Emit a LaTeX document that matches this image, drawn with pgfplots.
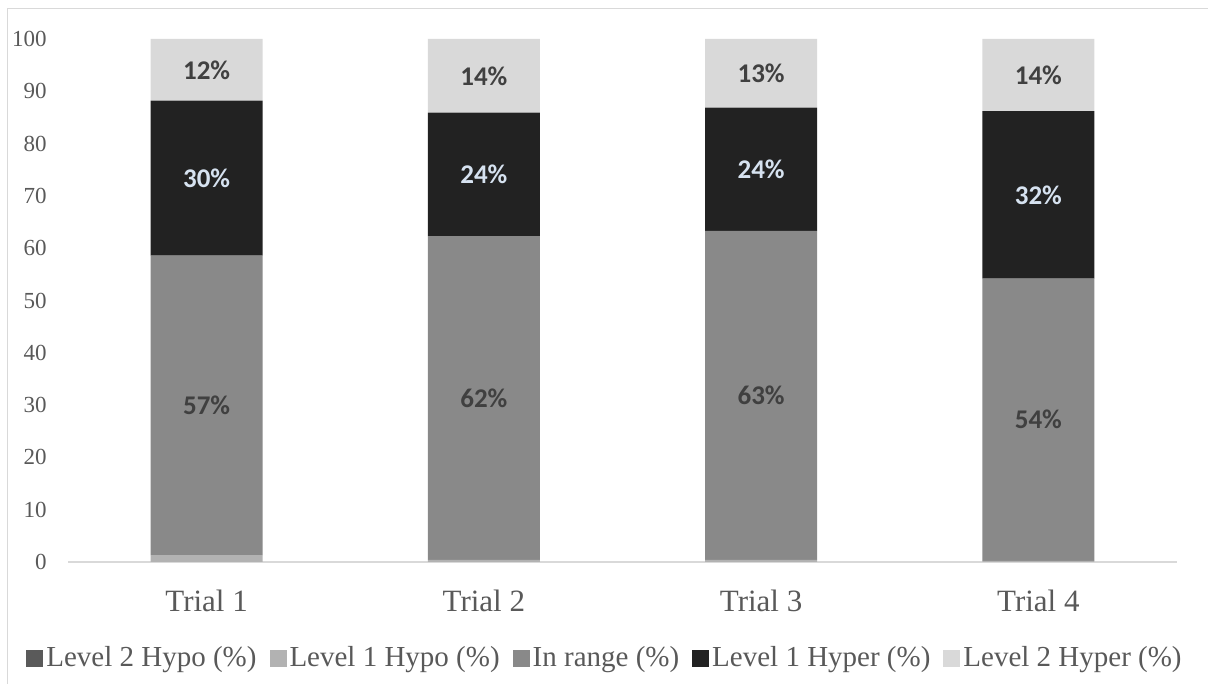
\documentclass[border=0pt]{standalone}
\usepackage{fontspec}
\setmainfont{Liberation Serif}
\newfontfamily\labelfont{Carlito}
\usepackage{pgfplots}
\usepackage{pgfplotstable}
\pgfplotsset{compat=1.18}

\definecolor{hypoTwo}{HTML}{5A5A5A}
\definecolor{hypoOne}{HTML}{B2B2B2}
\definecolor{inRange}{HTML}{898989}
\definecolor{hyperOne}{HTML}{222222}
\definecolor{hyperTwo}{HTML}{D9D9D9}
\definecolor{axisText}{HTML}{595959}
\definecolor{axisLine}{HTML}{D9D9D9}
\definecolor{labelDark}{HTML}{404040}
\definecolor{labelLight}{HTML}{D6E2F0}

% time in glucose ranges per trial (%)
\pgfplotstableread{
trial hypoTwo hypoOne inrange hyperOne hyperTwo
0     0       1.3     57.3    29.6     11.8
1     0       0.4     61.9    23.6     14.1
2     0       0.4     62.9    23.6     13.1
3     0       0.2     54.0    32.0     13.8
}\glucose

\pgfplotsset{
  centred labels/.style={
    nodes near coords={\pgfmathprintnumber[fixed,precision=0]{\pgfplotspointmeta}\%},
    nodes near coords align=center,
    every node near coord/.append style={
      anchor=center,
      font=\labelfont\bfseries\fontsize{13.5}{15}\selectfont,
      text=#1},
  },
  legsq/.style={legend image code/.code={\fill[##1] (0pt,-4.25pt) rectangle (8.5pt,4.25pt);}},
}

\begin{document}
\begin{tikzpicture}
\useasboundingbox (0,0) rectangle (604pt,342pt);
\draw[axisLine, line width=0.75pt] (3.75pt,0) -- (3.75pt,337.75pt) -- (604pt,337.75pt);
\begin{axis}[
  at={(34pt,61pt)}, anchor=south west,
  scale only axis, width=554.5pt, height=261.5pt,
  ybar stacked, bar width=0.404,
  xmin=-0.5, xmax=3.5, ymin=0, ymax=100,
  clip=false,
  axis line style={draw=none},
  major tick length=0pt,
  xtick={0,1,2,3},
  xticklabels={Trial 1, Trial 2, Trial 3, Trial 4},
  ytick={0,10,...,100},
  /pgf/number format/assume math mode=true,
  yticklabel style={anchor=east, inner sep=0pt, xshift=-10.5pt,
    font=\fontsize{11.5}{13}\selectfont, text=axisText},
  xticklabel style={anchor=base, inner sep=0pt, yshift=-25pt,
    font=\fontsize{15.5}{17}\selectfont, text=axisText},
  legend columns=5,
  legend style={draw=none, fill=none, at={(0.4833,-0.1836)}, anchor=center,
    inner sep=0pt,
    nodes={inner sep=0pt, text=axisText, font=\fontsize{14.5}{16}\selectfont},
    /tikz/every odd column/.append style={column sep=1.5pt},
    /tikz/every even column/.append style={column sep=6.5pt}},
]
\addplot[fill=hypoTwo, draw=none, legsq] table[x=trial, y=hypoTwo]{\glucose};
\addlegendentry{Level 2 Hypo (\%)}
\addplot[fill=hypoOne, draw=none, legsq] table[x=trial, y=hypoOne]{\glucose};
\addlegendentry{Level 1 Hypo (\%)}
\addplot[fill=inRange, draw=none, legsq, centred labels=labelDark] table[x=trial, y=inrange]{\glucose};
\addlegendentry{In range (\%)}
\addplot[fill=hyperOne, draw=none, legsq, centred labels=labelLight] table[x=trial, y=hyperOne]{\glucose};
\addlegendentry{Level 1 Hyper (\%)}
\addplot[fill=hyperTwo, draw=none, legsq, centred labels=labelDark] table[x=trial, y=hyperTwo]{\glucose};
\addlegendentry{Level 2 Hyper (\%)}
\draw[axisLine, line width=1pt] (axis cs:-0.5,0) -- (axis cs:3.5,0);
\end{axis}
\end{tikzpicture}
\end{document}
